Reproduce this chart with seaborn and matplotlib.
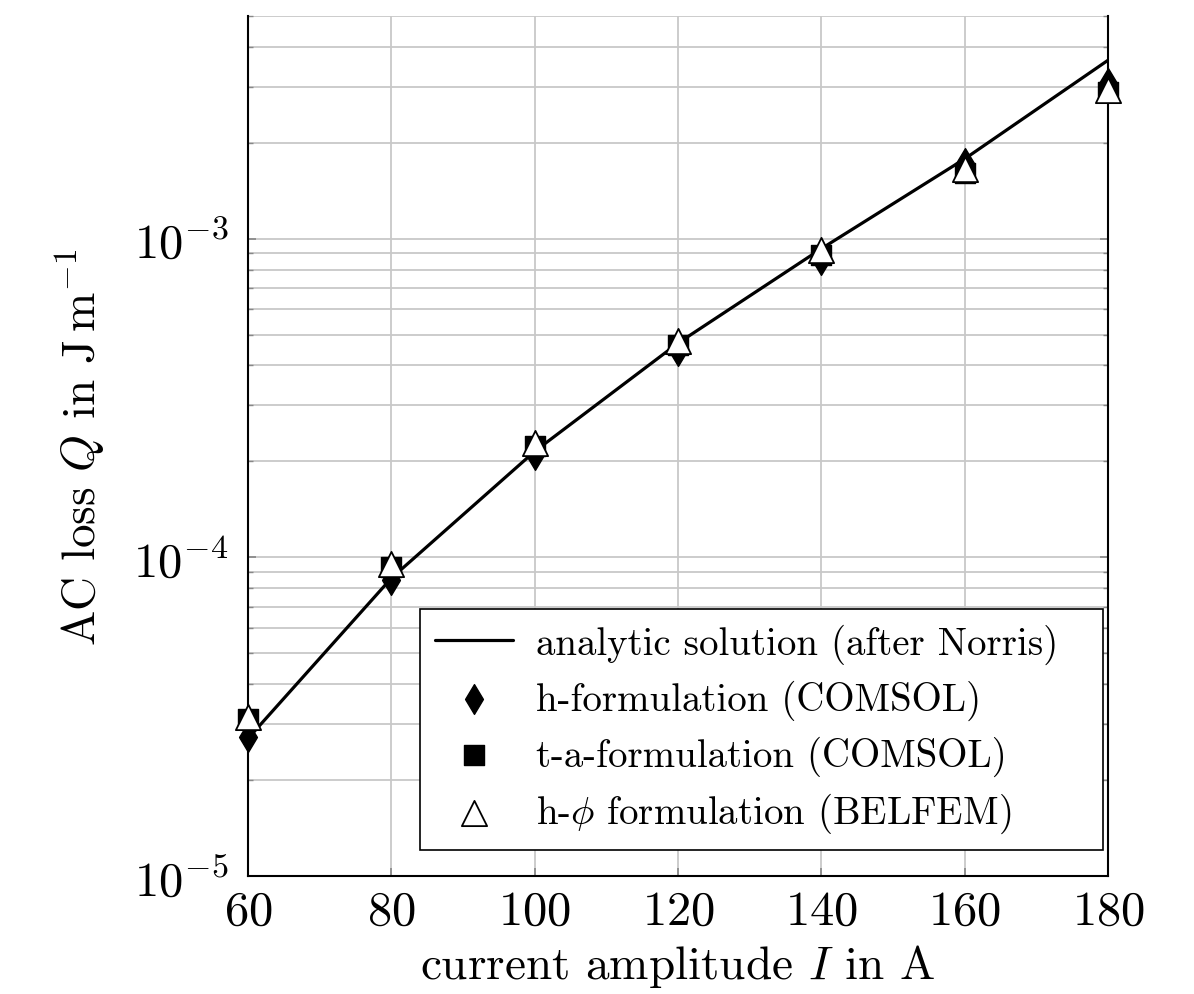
import numpy as np
import pandas as pd
import seaborn as sns
import matplotlib.pyplot as plt
from matplotlib.ticker import LogLocator, NullFormatter

# current amplitude in A
current = [60, 80, 100, 120, 140, 160, 180]

# AC loss in J/m
analytic = [2.7e-5, 8.6e-5, 2.15e-4, 4.7e-4, 9.3e-4, 1.78e-3, 3.63e-3]
h_comsol = [2.73e-5, 8.5e-5, 2.09e-4, 4.44e-4, 8.6e-4, 1.73e-3, 3.07e-3]
ta_comsol = [3.1e-5, 9.3e-5, 2.23e-4, 4.64e-4, 8.9e-4, 1.61e-3, 2.88e-3]
hphi_belfem = [3.16e-5, 9.5e-5, 2.28e-4, 4.78e-4, 9.2e-4, 1.66e-3, 2.92e-3]

labels = [
    "analytic solution (after Norris)",
    "h-formulation (COMSOL)",
    "t-a-formulation (COMSOL)",
    r"h-$\phi$ formulation (BELFEM)",
]

sns.set_theme(style="white")
plt.rcParams["font.family"] = ["cmr10", "DejaVu Serif"]
plt.rcParams["mathtext.fontset"] = "cm"
plt.rcParams["axes.formatter.use_mathtext"] = True
plt.rcParams["text.color"] = "black"
plt.rcParams["axes.labelcolor"] = "black"
plt.rcParams["xtick.labelcolor"] = "black"
plt.rcParams["ytick.labelcolor"] = "black"

fig = plt.figure(figsize=(11.94, 9.95), dpi=100)
ax = fig.add_axes([0.2077, 0.1186, 0.7203, 0.8644])

df_line = pd.DataFrame({"I": current, "Q": analytic})
sns.lineplot(data=df_line, x="I", y="Q", ax=ax, color="black", lw=2.3,
             label=labels[0], zorder=3)

sns.scatterplot(x=current, y=h_comsol, ax=ax, marker="d", s=230, color="black",
                edgecolor="black", linewidth=1, label=labels[1], zorder=2,
                clip_on=False)
sns.scatterplot(x=current, y=ta_comsol, ax=ax, marker="s", s=190, color="black",
                edgecolor="black", linewidth=1, label=labels[2], zorder=2.5,
                clip_on=False)
sns.scatterplot(x=current, y=hphi_belfem, ax=ax, marker="^", s=330, color="white",
                edgecolor="black", linewidth=1.3, label=labels[3], zorder=4,
                clip_on=False)

ax.set_yscale("log")
ax.set_xlim(60, 180)
ax.set_ylim(1e-5, 5e-3)
ax.set_xticks(current)
ax.yaxis.set_major_locator(LogLocator(base=10, numticks=10))
ax.yaxis.set_minor_locator(LogLocator(base=10, subs=np.arange(2, 10), numticks=10))
ax.yaxis.set_minor_formatter(NullFormatter())

ax.grid(True, which="major", color="#c8c8c8", lw=1.3)
ax.grid(True, which="minor", axis="y", color="#c8c8c8", lw=1.3)
ax.set_axisbelow(True)

for side in ["left", "right", "bottom"]:
    ax.spines[side].set_visible(True)
    ax.spines[side].set_color("black")
    ax.spines[side].set_linewidth(1.5)
ax.spines["top"].set_visible(False)

ax.tick_params(axis="both", which="both", direction="in", color="#888888",
               left=True, right=True, bottom=True, top=False)
ax.tick_params(axis="both", which="major", length=6, labelsize=35)
ax.tick_params(axis="x", which="major", pad=10)
ax.tick_params(axis="y", which="major", pad=14)
ax.tick_params(axis="y", which="minor", length=3.5)

ax.set_xlabel(r"current amplitude $I$ in $\mathrm{A}$", fontsize=34, labelpad=6)
ax.set_ylabel(r"AC loss $Q$ in $\mathrm{J\,m^{-1}}$", fontsize=34, labelpad=18)

leg = ax.legend(loc="lower left", bbox_to_anchor=(0.2, 0.03, 0.794, 0.28),
                mode="expand", borderaxespad=0,
                fontsize=28, frameon=True, fancybox=False, handlelength=2.0,
                labelspacing=0.4, borderpad=0.38, handletextpad=0.6)
leg.get_frame().set_edgecolor("black")
leg.get_frame().set_linewidth(1.2)
leg.get_frame().set_alpha(1)

fig.savefig("out.png", dpi=100)
